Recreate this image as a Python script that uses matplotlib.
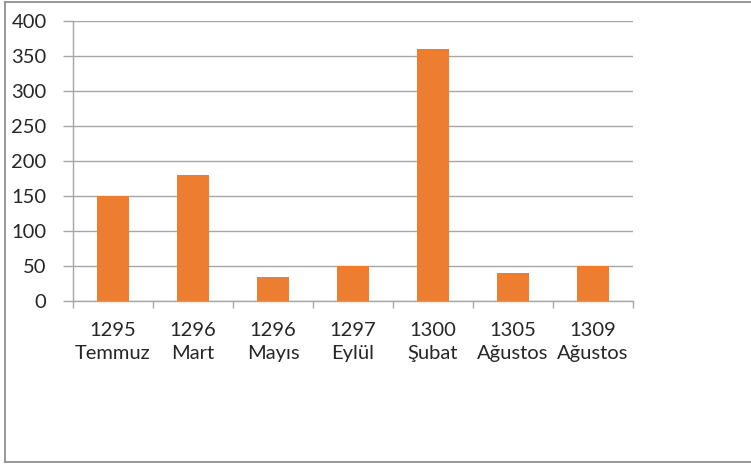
import numpy as np
import matplotlib.pyplot as plt
from matplotlib.lines import Line2D

plt.rcParams["font.family"] = ["Lato", "DejaVu Sans"]
plt.rcParams["font.size"] = 14.5

# data
years = ["1295", "1296", "1296", "1297", "1300", "1305", "1309"]
months = ["Temmuz", "Mart", "Mayıs", "Eylül", "Şubat", "Ağustos", "Ağustos"]
values = [150, 180, 35, 50, 360, 40, 50]

BAR_COLOR = "#ED7D31"
GRID_COLOR = "#A6A6A6"
TEXT_COLOR = "#262626"

fig = plt.figure(figsize=(7.51, 4.66), dpi=100)
ax = fig.add_axes([73 / 751, 1 - 301 / 466, (633 - 73) / 751, (301 - 21) / 466])

x = np.arange(len(values))
ax.bar(x, values, width=0.4, color=BAR_COLOR, zorder=3)

ax.set_xlim(-0.5, len(values) - 0.5)
ax.set_ylim(0, 400)
ax.set_yticks(np.arange(0, 401, 50))
ax.yaxis.grid(True, color=GRID_COLOR, linewidth=1, zorder=0)

# ticks at category boundaries, labels at centres
ax.set_xticks(np.arange(-0.5, len(values)), labels=[])
ax.set_xticks(x, labels=[f"{y}\n{m}" for y, m in zip(years, months)], minor=True)
ax.tick_params(axis="x", which="major", length=5, color=GRID_COLOR, width=1)
ax.tick_params(axis="x", which="minor", length=0, pad=15, labelsize=14.5, colors=TEXT_COLOR)
ax.tick_params(axis="y", length=7, color=GRID_COLOR, width=1, pad=12, labelsize=14.5,
               labelcolor=TEXT_COLOR)
for lbl in ax.get_xticklabels(minor=True):
    lbl.set_linespacing(1.45)

for side in ["top", "right"]:
    ax.spines[side].set_visible(False)
for side in ["left", "bottom"]:
    ax.spines[side].set_color(GRID_COLOR)
    ax.spines[side].set_linewidth(1)

# outer chart frame
W, H = 751, 466
frame = dict(color="#888888", linewidth=1.2, transform=fig.transFigure)
fig.add_artist(Line2D([5 / W, 5 / W], [1 - 1.5 / H, 1 - 462 / H], **frame))
fig.add_artist(Line2D([5 / W, 1], [1 - 1.5 / H, 1 - 1.5 / H], **frame))
fig.add_artist(Line2D([5 / W, 1], [1 - 462 / H, 1 - 462 / H], **frame))

fig.savefig("out.png", dpi=100)
